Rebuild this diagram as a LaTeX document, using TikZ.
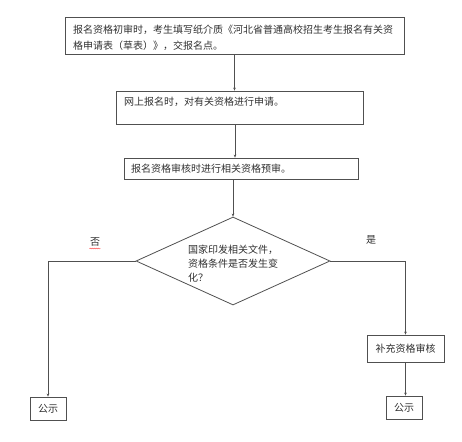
\documentclass[tikz,border=0pt]{standalone}
\usepackage{fontspec}
\setmainfont{Noto Sans CJK SC}
\usetikzlibrary{shapes.geometric,arrows.meta,decorations.pathmorphing}
\definecolor{linec}{HTML}{505050}
\definecolor{textc}{HTML}{303030}
\begin{document}
\begin{tikzpicture}[x=1pt,y=-1pt,
  box/.style={draw=linec,line width=0.8pt,rectangle,inner sep=0pt},
  txt/.style={text=textc,font=\fontsize{10}{12}\selectfont,inner sep=0pt},
  arr/.style={draw=linec,line width=0.8pt,-{Stealth[length=3pt,width=2.6pt]}}]
\useasboundingbox (0,0) rectangle (462,441);
\node[box,minimum width=339pt,minimum height=37pt] (b1) at (234.5,35.5) {};
\node[box,minimum width=247pt,minimum height=33pt] (b2) at (239.5,107.5) {};
\node[box,minimum width=234pt,minimum height=21pt] (b3) at (241,168.5) {};
\node[draw=linec,line width=0.8pt,diamond,inner sep=0pt,minimum width=194pt,minimum height=88pt] (d) at (233,261) {};
\node[box,minimum width=36pt,minimum height=23pt,txt,draw=linec] (L) at (48,408.5) {公示};
\node[box,minimum width=77pt,minimum height=27pt,txt,draw=linec] (S) at (405.5,348.5) {补充资格审核};
\node[box,minimum width=36pt,minimum height=23pt,txt,draw=linec] (R) at (404,407.5) {公示};
\node[txt,anchor=base west] (t1a) at (73,34) {报名资格初审时，考生填写纸介质《河北省普通高校招生考生报名有关资};
\node[txt,anchor=base west] (t1b) at (73,50) {格申请表（草表）》，交报名点。};
\node[txt,anchor=base west] (t2) at (124,106) {网上报名时，对有关资格进行申请。};
\node[txt,anchor=base west] (t3) at (131,172) {报名资格审核时进行相关资格预审。};
\node[txt,anchor=base west] (t4a) at (188,253) {国家印发相关文件，};
\node[txt,anchor=base west] (t4b) at (188,267) {资格条件是否发生变};
\node[txt,anchor=base west] (t4c) at (188,281) {化？};
\node[txt] (no) at (95,242) {否};
\node[txt] (yes) at (371,240) {是};
\coordinate (u1) at (89.5,248.5);
\coordinate (u2) at (100.5,248.5);
\draw[red!80,line width=0.4pt,decorate,decoration={snake,amplitude=0.5pt,segment length=2pt}] (u1) -- (u2);
\draw[arr] (b1.south) -- (b1.south |- b2.north);
\draw[arr] (b2.south -| b1.south) ++(0.5,0) coordinate (c2) -- (c2 |- b3.north);
\draw[arr] (b3.south -| d.north) -- (d.north);
\draw[arr] (d.west) -| (L.north);
\draw[arr] (d.east) -| (S.north);
\draw[arr] (S.south) -- (S.south |- R.north);
\end{tikzpicture}
\end{document}
